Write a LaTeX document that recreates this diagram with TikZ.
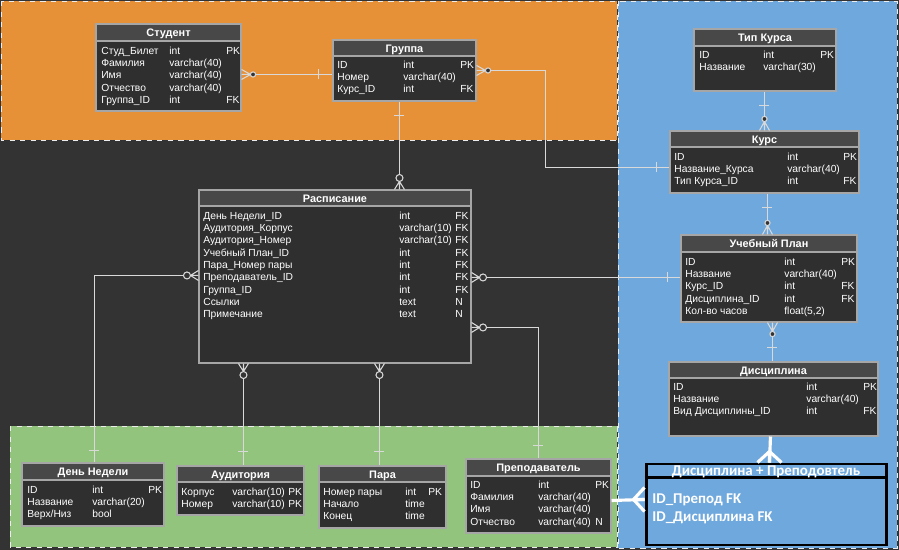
\documentclass[tikz,border=0pt]{standalone}
\usepackage{fontspec}
\setmainfont{Liberation Sans}
\newfontfamily\boxfont{Carlito}
\usetikzlibrary{calc, positioning, fit}

\definecolor{darkbg}{HTML}{333333}
\definecolor{orng}{HTML}{E69138}
\definecolor{blu}{HTML}{6FA8DC}
\definecolor{grn}{HTML}{93C47D}
\definecolor{tblbody}{HTML}{2F2F2F}
\definecolor{tblhead}{HTML}{484848}
\definecolor{tblline}{HTML}{A6A6A6}
\definecolor{lgray}{HTML}{D9D9D9}

\newlength\pxu
\setlength\pxu{0.02cm}
\newcommand\tblfont{\fontsize{5.85}{7}\selectfont}
\newcommand\dpfont{\boxfont\bfseries\fontsize{8.5}{10.2}\selectfont}

\begin{document}
\begin{tikzpicture}[
        x=0.02cm, y=-0.02cm,
        region/.style={draw=white!85!gray, dashed, line width=0.5pt},
        tbl/.style={draw=tblline, fill=tblbody, line width=0.6pt, inner sep=0pt},
        hdr/.style={draw=tblline, fill=tblhead, line width=0.6pt},
        title/.style={text=white, font=\fontsize{6.2}{7}\selectfont\bfseries, inner sep=0pt, text height=4.6pt, text depth=0pt},
        rows/.style={anchor=north west, inner sep=0pt, text=white, font=\tblfont},
        conn/.style={draw=lgray, line width=0.6pt},
        thickw/.style={draw=white, line width=1.8pt},
        crowzero/.pic={
            \draw[conn] (0,-5) -- (8,0) -- (0,5) (0,0) -- (8,0);
            \filldraw[conn, fill=darkbg] (11.5,0) circle[radius=3.5];
        },
        crowone/.pic={
            \draw[conn] (0,-5) -- (9,0) -- (0,5) (0,0) -- (9,0);
            \filldraw[conn, fill=darkbg] (11.5,0) circle[radius=2.6];
        },
        bar/.pic={\draw[conn] (#1,-5) -- (#1,5);},
        bigcrow/.pic={\draw[thickw] (0,-12) -- (11,0) -- (0,12) (0,0) -- (11,0);},
    ]

    \useasboundingbox (0,0) rectangle (899,550);
    \fill[darkbg] (0,0) rectangle (899,550);

    \filldraw[region, fill=orng] (1,1) rectangle (617,140);
    \filldraw[region, fill=blu] (618,1) rectangle (897,548);
    \filldraw[region, fill=grn] (10,426) rectangle (617,547);

    % Студент
    \node[tbl, fit={(96,24) (241,111)}] (stud) {};
    \filldraw[hdr] (96,24) rectangle (241,41);
    \node[title] (stud-title) at (168.5,32.5) {Студент};
    \node[rows] (stud-rows) at (101,45.3) {\begin{tabular}{@{}p{68\pxu}@{}p{57\pxu}@{}l@{}}
        Студ\_Билет & int & PK\\
        Фамилия & varchar(40) & \\
        Имя & varchar(40) & \\
        Отчество & varchar(40) & \\
        Группа\_ID & int & FK
    \end{tabular}};

    % Группа
    \node[tbl, fit={(333,40) (476,101)}] (grp) {};
    \filldraw[hdr] (333,40) rectangle (476,56);
    \node[title] (grp-title) at (404.5,48) {Группа};
    \node[rows] (grp-rows) at (337,59.3) {\begin{tabular}{@{}p{66\pxu}@{}p{57\pxu}@{}l@{}}
        ID & int & PK\\
        Номер & varchar(40) & \\
        Курс\_ID & int & FK
    \end{tabular}};

    % Тип Курса
    \node[tbl, fit={(694,29) (836,91)}] (typ) {};
    \filldraw[hdr] (694,29) rectangle (836,46);
    \node[title] (typ-title) at (765,37.5) {Тип Курса};
    \node[rows] (typ-rows) at (699,49.3) {\begin{tabular}{@{}p{64\pxu}@{}p{57\pxu}@{}l@{}}
        ID & int & PK\\
        Название & varchar(30) &
    \end{tabular}};

    % Курс
    \node[tbl, fit={(670,131) (859,193)}] (kurs) {};
    \filldraw[hdr] (670,131) rectangle (859,147);
    \node[title] (kurs-title) at (764.5,139) {Курс};
    \node[rows] (kurs-rows) at (674,151.3) {\begin{tabular}{@{}p{113\pxu}@{}p{56\pxu}@{}l@{}}
        ID & int & PK\\
        Название\_Курса & varchar(40) & \\
        Тип Курса\_ID & int & FK
    \end{tabular}};

    % Расписание
    \node[tbl, fit={(199,190) (471,363)}] (rasp) {};
    \filldraw[hdr] (199,190) rectangle (471,206);
    \node[title] (rasp-title) at (335,198) {Расписание};
    \node[rows] (rasp-rows) at (203,210.3) {\begin{tabular}{@{}p{196\pxu}@{}p{56\pxu}@{}l@{}}
        День Недели\_ID & int & FK\\
        Аудитория\_Корпус & varchar(10) & FK\\
        Аудитория\_Номер & varchar(10) & FK\\
        Учебный План\_ID & int & FK\\
        Пара\_Номер пары & int & FK\\
        Преподаватель\_ID & int & FK\\
        Группа\_ID & int & FK\\
        Ссылки & text & N\\
        Примечание & text & N
    \end{tabular}};

    % Учебный План
    \node[tbl, fit={(681,235) (857,322)}] (plan) {};
    \filldraw[hdr] (681,235) rectangle (857,252);
    \node[title] (plan-title) at (769,243.5) {Учебный План};
    \node[rows] (plan-rows) at (685,256.3) {\begin{tabular}{@{}p{99\pxu}@{}p{57\pxu}@{}l@{}}
        ID & int & PK\\
        Название & varchar(40) & \\
        Курс\_ID & int & FK\\
        Дисциплина\_ID & int & FK\\
        Кол-во часов & float(5,2) &
    \end{tabular}};

    % Дисциплина
    \node[tbl, fit={(669,362) (878,436)}] (disc) {};
    \filldraw[hdr] (669,362) rectangle (878,378);
    \node[title] (disc-title) at (773.5,370) {Дисциплина};
    \node[rows] (disc-rows) at (673,381.3) {\begin{tabular}{@{}p{133\pxu}@{}p{57\pxu}@{}l@{}}
        ID & int & PK\\
        Название & varchar(40) & \\
        Вид Дисциплины\_ID & int & FK
    \end{tabular}};

    % День Недели
    \node[tbl, fit={(22,463) (164,526)}] (den) {};
    \filldraw[hdr] (22,463) rectangle (164,480);
    \node[title] (den-title) at (93,471.5) {День Недели};
    \node[rows] (den-rows) at (27,484.3) {\begin{tabular}{@{}p{65\pxu}@{}p{56\pxu}@{}l@{}}
        ID & int & PK\\
        Название & varchar(20) & \\
        Верх/Низ & bool &
    \end{tabular}};

    % Аудитория
    \node[tbl, fit={(177,466) (304,515)}] (aud) {};
    \filldraw[hdr] (177,466) rectangle (304,482);
    \node[title] (aud-title) at (240.5,474) {Аудитория};
    \node[rows] (aud-rows) at (181,486.3) {\begin{tabular}{@{}p{51\pxu}@{}p{56\pxu}@{}l@{}}
        Корпус & varchar(10) & PK\\
        Номер & varchar(10) & PK
    \end{tabular}};

    % Пара
    \node[tbl, fit={(319,466) (446,528)}] (para) {};
    \filldraw[hdr] (319,466) rectangle (446,482);
    \node[title] (para-title) at (382.5,474) {Пара};
    \node[rows] (para-rows) at (323,486.3) {\begin{tabular}{@{}p{82\pxu}@{}p{23\pxu}@{}l@{}}
        Номер пары & int & PK\\
        Начало & time & \\
        Конец & time &
    \end{tabular}};

    % Преподаватель
    \node[tbl, fit={(466,459) (611,533)}] (prep) {};
    \filldraw[hdr] (466,459) rectangle (611,476);
    \node[title] (prep-title) at (538.5,467.5) {Преподаватель};
    \node[rows] (prep-rows) at (470,479.3) {\begin{tabular}{@{}p{68\pxu}@{}p{57\pxu}@{}l@{}}
        ID & int & PK\\
        Фамилия & varchar(40) & \\
        Имя & varchar(40) & \\
        Отчество & varchar(40) & N
    \end{tabular}};

    % Дисциплина + Преподовтель
    \node[fit={(646,464) (886,545)}, draw=black, line width=1.7pt, inner sep=0pt] (dp) {};
    \draw[black, line width=1.7pt] ($(dp.north west)+(0,15)$) -- ++(242,0);
    \node[text=white, font=\dpfont, inner sep=0pt] (dp-title) at (766,471.5) {Дисциплина + Преподовтель};
    \node[anchor=north west, inner sep=0pt, text=white, font=\dpfont] (dp-rows) at (652,490.2) {\begin{tabular}{@{}l@{}}
        ID\_Препод FK\\
        ID\_Дисциплина FK
    \end{tabular}};

    % connectors
    \coordinate (sg-a) at ($(stud.north east)+(0,51)$);
    \coordinate (sg-b) at ($(grp.north west)+(0,35)$);
    \draw[conn] (sg-a) -- (sg-b);
    \pic at (sg-a) {crowone};
    \pic[rotate=180] at (sg-b) {bar=14};

    \coordinate (gk-a) at ($(grp.north east)+(0,31)$);
    \coordinate (gk-b) at ($(kurs.north west)+(0,37)$);
    \draw[conn] (gk-a) -- ++(69,0) |- (gk-b);
    \pic at (gk-a) {crowone};
    \pic[rotate=180] at (gk-b) {bar=13};

    \coordinate (gr-a) at ($(grp.south west)+(67,0)$);
    \coordinate (gr-b) at ($(rasp.north west)+(201,0)$);
    \draw[conn] (gr-a) -- (gr-b);
    \pic[rotate=-90] at (gr-a) {bar=14};
    \pic[rotate=90] at (gr-b) {crowzero};

    \coordinate (tk-a) at ($(typ.south west)+(71,0)$);
    \coordinate (tk-b) at ($(kurs.north west)+(95,0)$);
    \draw[conn] (tk-a) -- (tk-b);
    \pic[rotate=-90] at (tk-a) {bar=14};
    \pic[rotate=90] at (tk-b) {crowone};

    \coordinate (kp-a) at ($(kurs.south west)+(98,0)$);
    \coordinate (kp-b) at ($(plan.north west)+(87,0)$);
    \draw[conn] (kp-a) -- (kp-b);
    \pic[rotate=-90] at (kp-a) {bar=14};
    \pic[rotate=90] at (kp-b) {crowone};

    \coordinate (pd-a) at ($(plan.south west)+(92,0)$);
    \coordinate (pd-b) at ($(disc.north west)+(104,0)$);
    \draw[conn] (pd-a) -- (pd-b);
    \pic[rotate=-90] at (pd-a) {crowone};
    \pic[rotate=90] at (pd-b) {bar=14};

    \coordinate (rp-a) at ($(rasp.north east)+(0,88)$);
    \coordinate (rp-b) at ($(plan.north west)+(0,43)$);
    \draw[conn] (rp-a) -- (rp-b);
    \pic at (rp-a) {crowzero};
    \pic[rotate=180] at (rp-b) {bar=13};

    \coordinate (rt-a) at ($(rasp.north east)+(0,138)$);
    \coordinate (rt-b) at ($(prep.north west)+(73,0)$);
    \draw[conn] (rt-a) -| (rt-b);
    \pic at (rt-a) {crowzero};
    \pic[rotate=90] at (rt-b) {bar=13};

    \coordinate (rd-a) at ($(rasp.north west)+(0,86)$);
    \coordinate (rd-b) at ($(den.north west)+(73,0)$);
    \draw[conn] (rd-a) -| (rd-b);
    \pic[rotate=180] at (rd-a) {crowzero};
    \pic[rotate=90] at (rd-b) {bar=12};

    \coordinate (ra-a) at ($(rasp.south west)+(45,0)$);
    \coordinate (ra-b) at ($(aud.north west)+(67,0)$);
    \draw[conn] (ra-a) -- (ra-b);
    \pic[rotate=-90] at (ra-a) {crowzero};
    \pic[rotate=90] at (ra-b) {bar=14};

    \coordinate (rs-a) at ($(rasp.south west)+(181,0)$);
    \coordinate (rs-b) at ($(para.north west)+(61,0)$);
    \draw[conn] (rs-a) -- (rs-b);
    \pic[rotate=-90] at (rs-a) {crowzero};
    \pic[rotate=90] at (rs-b) {bar=14};

    \coordinate (dd-a) at ($(disc.south west)+(102,0)$);
    \coordinate (dd-b) at ($(dp.north west)+(125,0)$);
    \draw[thickw] (dd-a) -- (dd-b);
    \pic[rotate=90] at (dd-b) {bigcrow};

    \coordinate (td-a) at ($(prep.north east)+(0,42)$);
    \coordinate (td-b) at ($(dp.north west)+(0,37)$);
    \draw[thickw] (td-a) -- (td-b);
    \pic[rotate=180] at (td-b) {bigcrow};

\end{tikzpicture}
\end{document}
